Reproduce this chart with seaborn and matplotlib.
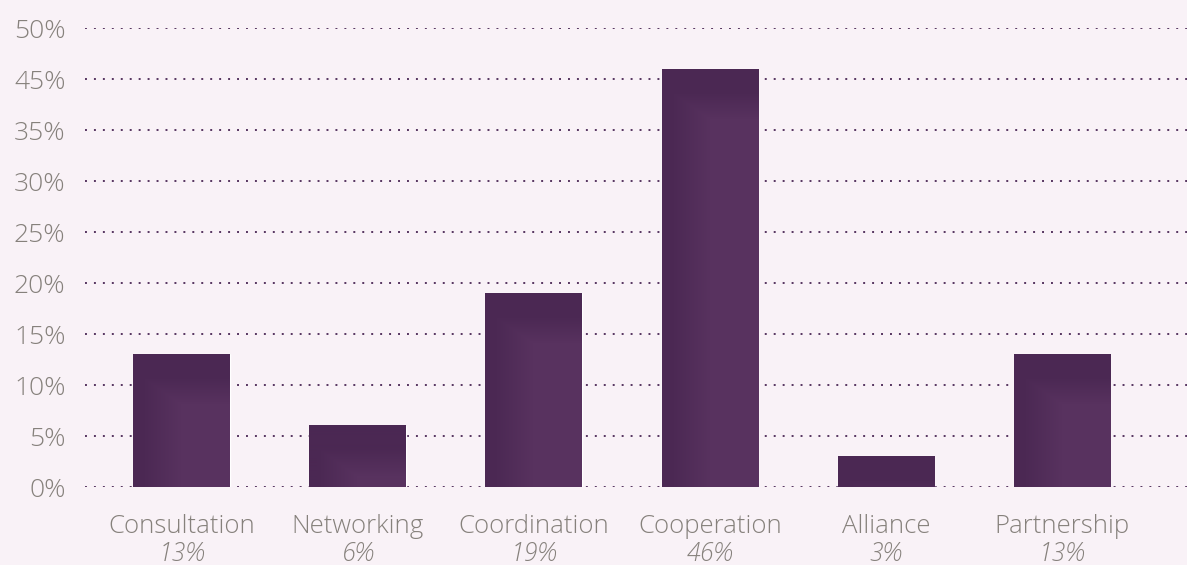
import numpy as np
import pandas as pd
import matplotlib
matplotlib.use("Agg")
import matplotlib.pyplot as plt
import seaborn as sns

# =============================
# Data
# =============================
categories = ['Consultation', 'Networking', 'Coordination', 'Cooperation', 'Alliance', 'Partnership']
shares = [13, 6, 19, 46, 3, 13]
tick_values = [0, 5, 10, 15, 20, 25, 30, 35, 45, 50]
tick_labels = ['0%', '5%', '10%', '15%', '20%', '25%', '30%', '35%', '45%', '50%']

df = pd.DataFrame({'Category': categories, 'Share': shares})

# =============================
# Style
# =============================
bg = '#f9f2f7'
bar_color = '#58325f'
dark_color = '#4b2853'
text_gray = '#86817c'

sns.set_theme(style='white')
plt.rcParams['font.family'] = ['Open Sans', 'DejaVu Sans']

fig = plt.figure(figsize=(11.87, 5.65), dpi=100, facecolor=bg)
ax = fig.add_axes([0.0716, 0.138, 0.9284, 0.812])
ax.set_facecolor(bg)

# axis in the original skips the 40% step (35% -> 45% is one interval)
def forward(y):
    y = np.asarray(y, dtype=float)
    return np.where(y <= 35, y / 5, np.where(y >= 45, (y - 5) / 5, 7 + (y - 35) / 10))

def inverse(p):
    p = np.asarray(p, dtype=float)
    return np.where(p <= 7, p * 5, np.where(p >= 8, p * 5 + 5, 35 + (p - 7) * 10))

ax.set_yscale('function', functions=(forward, inverse))

sns.barplot(data=df, x='Category', y='Share', color=bar_color, width=0.55,
            saturation=1, ax=ax, zorder=3)

ax.set_ylim(0, 50)
ax.set_xlim(-0.55, 5.71)
ax.set_yticks(tick_values)
ax.set_yticklabels(tick_labels)
ax.yaxis.set_minor_locator(matplotlib.ticker.NullLocator())
for v in tick_values:
    ax.axhline(v, color='#563560', linewidth=1.4, linestyle=(0, (1, 3.6)), zorder=1)

for s in ax.spines.values():
    s.set_visible(False)
ax.tick_params(axis='y', length=0, pad=14, labelsize=19, labelcolor=text_gray)
ax.tick_params(axis='x', length=0)
for lab in ax.get_yticklabels():
    lab.set_fontweight('light')
ax.set_xticklabels([])
ax.set_xlabel('')
ax.set_ylabel('')

# category labels with italic percent below
for i, (c, v) in enumerate(zip(categories, shares)):
    ax.text(i, -0.087, c, transform=ax.get_xaxis_transform(), ha='center', va='center',
            fontsize=18.5, color=text_gray, fontweight='light')
    ax.text(i, -0.147, f'{v}%', transform=ax.get_xaxis_transform(), ha='center', va='center',
            fontsize=18, color=text_gray, style='italic', fontweight='light')

# subtle shading on bars (darker top and left edge)
fig.canvas.draw()
c_main = np.array(matplotlib.colors.to_rgb(bar_color))
c_dark = np.array(matplotlib.colors.to_rgb(dark_color))
for patch in ax.patches:
    bb = patch.get_window_extent()
    w, h = int(round(bb.width)), int(round(bb.height))
    if w < 2 or h < 2:
        continue
    yy = np.arange(h)[:, None]
    xx = np.arange(w)[None, :]
    top = np.clip((yy - 22) / 28.0, 0, 1)
    left = np.clip((xx - 8) / 40.0, 0, 1)
    t = np.minimum(top, left)
    img = c_dark[None, None, :] * (1 - t[..., None]) + c_main[None, None, :] * t[..., None]
    inv = ax.transAxes.inverted()
    x0, y0 = inv.transform((bb.x0, bb.y0))
    x1, y1 = inv.transform((bb.x1, bb.y1))
    ax.imshow(img, extent=(x0, x1, y0, y1), transform=ax.transAxes, origin='upper',
              aspect='auto', zorder=4, interpolation='bilinear')
ax.set_xlim(-0.55, 5.71)
ax.set_ylim(0, 50)

fig.savefig('out.png', dpi=100, facecolor=bg)
